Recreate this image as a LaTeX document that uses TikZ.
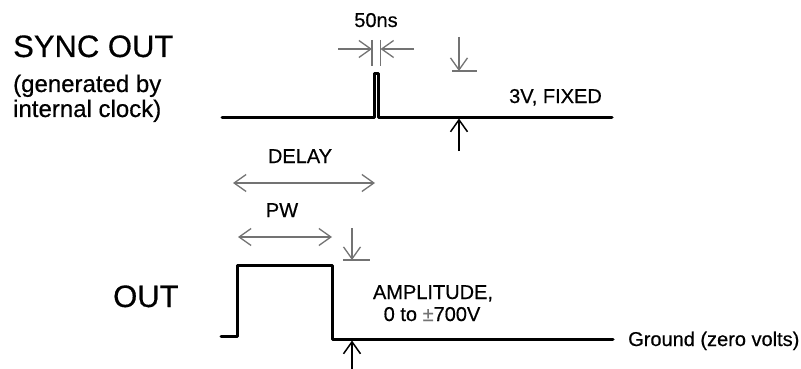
\documentclass[tikz,border=0pt]{standalone}
\usepackage{fontspec}
\setmainfont{Liberation Sans}[FakeBold=0.5]
\usetikzlibrary{arrows.meta}
\definecolor{dimgray}{RGB}{115,115,115}
\begin{document}
\begin{tikzpicture}[x=1pt,y=-1pt,
  wave/.style={line width=3pt, line join=round, line cap=round},
  dimline/.style={draw=dimgray, line width=1.3pt},
  blackdim/.style={draw=black, line width=1.5pt},
  barb/.style={-{Straight Barb[length=12pt,width=17pt]}},
  dbarb/.style={{Straight Barb[length=12pt,width=17pt]}-{Straight Barb[length=12pt,width=17pt]}},
  big/.style={inner sep=0, anchor=base west, font=\fontsize{31}{37}\selectfont},
  mid/.style={inner sep=0, anchor=base west, font=\fontsize{24}{26}\selectfont},
  lbl/.style={inner sep=0, anchor=base west, font=\fontsize{20}{23}\selectfont}
]
\useasboundingbox (0,0) rectangle (801,369);

% titles
\node[big] (sync) at (13,57) {SYNC OUT};
\node[mid] (gen1) at (13,92) {(generated by};
\node[mid] (gen2) at (13,117) {internal clock)};
\node[big] (out) at (113,307) {OUT};

% labels
\node[lbl, anchor=base] (ns) at (376,27) {50ns};
\node[lbl] (fixed) at (509,103) {3V, FIXED};
\node[lbl, anchor=base] (delay) at (300,163) {DELAY};
\node[lbl, anchor=base] (pw) at (282,217) {PW};
\node[lbl, anchor=base] (amp1) at (433,299) {AMPLITUDE,};
\node[lbl, anchor=base] (amp2) at (432,321) {0 to \textcolor{dimgray}{±}700V};
\node[lbl] (gnd) at (628,346) {Ground (zero volts)};

% sync waveform
\coordinate (s0) at (222,117);
\coordinate (s1) at (374.5,117);
\coordinate (s2) at (374.5,73.5);
\coordinate (s3) at (378.5,73.5);
\coordinate (s4) at (378.5,117);
\coordinate (s5) at (612,117);
\draw[wave] (s0) -- (s1) -- (s2) -- (s3) -- (s4) -- (s5);

% out waveform
\coordinate (o0) at (221,336);
\coordinate (o1) at (237,336);
\coordinate (o2) at (237,265);
\coordinate (o3) at (332,265);
\coordinate (o4) at (332,339);
\coordinate (o5) at (613,339);
\draw[wave] (o0) -- (o1) -- (o2) -- (o3) -- (o4) -- (o5);

% 50ns dimension
\coordinate (e1t) at (372,40); \coordinate (e1b) at (372,66);
\coordinate (e2t) at (380.5,40); \coordinate (e2b) at (380.5,66);
\draw[dimline] (e1t) -- (e1b);
\draw[dimline] (e2t) -- (e2b);
\coordinate (nl0) at (338,49); \coordinate (nl1) at (372,49);
\coordinate (nr0) at (414,49); \coordinate (nr1) at (380.5,49);
\draw[dimline, barb] (nl0) -- (nl1);
\draw[dimline, barb] (nr0) -- (nr1);

% 3V dimension
\coordinate (d0) at (459,37); \coordinate (d1) at (459,71);
\coordinate (t0) at (452,71); \coordinate (t1) at (477,71);
\draw[dimline, barb] (d0) -- (d1);
\draw[dimline] (t0) -- (t1);
\coordinate (u0) at (459,151); \coordinate (u1) at (459,118.5);
\draw[blackdim, barb] (u0) -- (u1);

% delay / pw
\coordinate (dl0) at (233,183); \coordinate (dl1) at (375,183);
\draw[dimline, dbarb] (dl0) -- (dl1);
\coordinate (pw0) at (238,237); \coordinate (pw1) at (332,237);
\draw[dimline, dbarb] (pw0) -- (pw1);

% amplitude dimension
\coordinate (a0) at (352,228); \coordinate (a1) at (352,260);
\coordinate (at0) at (343,260); \coordinate (at1) at (370,260);
\draw[dimline, barb] (a0) -- (a1);
\draw[dimline] (at0) -- (at1);
\coordinate (au0) at (352,369); \coordinate (au1) at (352,340.5);
\draw[blackdim, barb] (au0) -- (au1);
\end{tikzpicture}
\end{document}
